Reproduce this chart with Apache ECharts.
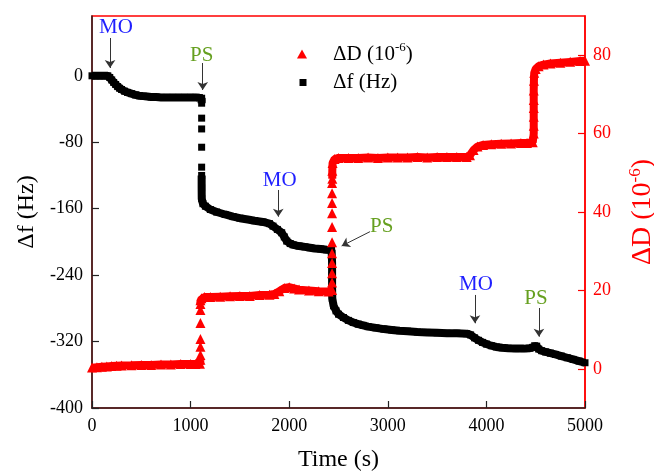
<!DOCTYPE html>
<html>
<head>
<meta charset="utf-8">
<script src="https://cdn.jsdelivr.net/npm/echarts@6/dist/echarts.min.js"></script>
<style>html,body{margin:0;padding:0;background:#fff;}#c{width:654px;height:472px;}</style>
</head>
<body>
<div id="c"></div>
<script>
// Δf (Hz) — black squares, left axis. null = gap between isolated markers
const fTime = [0,40,80,120,160,180,200,220,240,260,280,300,330,360,400,440,480,520,560,600,650,700,760,820,880,940,1000,1050,1090,1112,1112,1112,1112,1112,1112,1112,1112,1112,1112,1112,1112,1112,1113,1125,1150,1200,1264,1350,1430,1500,1580,1650,1734,1800,1836,1880,1924,1950,1975,2010,2040,2100,2160,2211,2260,2320,2380,2430,2435,2435,2435,2437,2450,2475,2500,2550,2600,2650,2700,2750,2800,2880,2960,3040,3120,3200,3300,3400,3500,3600,3700,3800,3840,3880,3920,3960,4000,4050,4100,4160,4220,4300,4380,4440,4470,4490,4510,4530,4560,4600,4650,4700,4760,4820,4880,4940,5000];
const fVal  = [0,0,0,0,0,-2,-5,-8,-10.5,-13,-15,-16.5,-18.5,-20,-21.5,-23,-24,-24.5,-25,-25.5,-25.5,-26,-26,-26,-26,-26,-26,-26,-26.5,-27,-33,null,-51,null,-64,null,-86,null,-110,null,-120,-135,-148,-154,-157,-161,-164,-167,-169.5,-171.5,-173,-174.5,-176,-178,-181,-185,-189,-194,-199,-202,-203.5,-205,-206,-207,-208,-208.5,-209.5,-210,-225,-240,-255,-268,-277,-283,-287,-291,-294.5,-297,-299,-300.5,-302,-303.5,-305,-306,-307,-307.5,-308.5,-309,-309.5,-310,-310,-310.5,-312,-315.5,-318.5,-321,-323,-325,-326.5,-327.5,-328,-328.5,-328.5,-328,-327,-325,-325.5,-329,-331,-332.5,-334,-335.5,-337.5,-339.5,-341.5,-343.5,-345.5];

// ΔD (10^-6) — red triangles, right axis
const dTime = [0,50,100,150,200,250,300,400,500,600,700,800,900,1000,1050,1095,1100,1100,1100,1100,1100,1100,1100,1100,1100,1100,1100,1100,1100,1100,1110,1140,1200,1300,1400,1500,1600,1700,1800,1850,1900,1950,2000,2050,2100,2200,2300,2400,2435,2435,2435,2435,2435,2435,2435,2435,2435,2435,2435,2435,2435,2435,2435,2435,2435,2435,2435,2435,2435,2435,2437,2437,2440,2460,2500,2600,2700,2800,2900,3000,3100,3200,3300,3400,3500,3600,3700,3800,3834,3870,3910,3966,4050,4150,4250,4350,4412,4470,4480,4480,4480,4480,4480,4480,4482,4485,4500,4530,4580,4650,4750,4850,4950,5000];
const dVal  = [0.3,0.4,0.5,0.6,0.7,0.8,0.85,0.9,1.0,1.0,1.1,1.1,1.2,1.2,1.2,1.3,2.3,null,3.5,null,5.6,null,7.6,null,11.7,null,15,null,16.5,17.5,18,18.3,18.3,18.4,18.5,18.6,18.6,18.8,18.9,19.1,19.8,20.6,20.8,20.5,20.2,20,19.8,19.7,20.1,null,22,null,24.4,null,27,null,29.5,null,32.3,null,36.2,null,39.7,null,42.3,null,44.8,null,47.4,null,48.5,50.5,52.5,53.5,53.8,53.8,53.8,53.9,53.8,53.9,53.9,53.9,54,53.9,54,54,54,54,54.5,55.8,56.7,57.1,57.3,57.4,57.5,57.6,57.6,57.8,60,62,64.3,66.5,68.6,71,73.5,75.5,76.5,77.2,77.6,77.9,78.1,78.3,78.5,78.6];

const xTicks = [0,1000,2000,3000,4000,5000];
const fTicks = [-400,-320,-240,-160,-80,0];
const dTicks = [0,20,40,60,80];

// annotations in data coordinates (time, Δf)
const notes = [
  {text:'MO', color:'#1f1fff', label:[243,58],    arrow:[183,45.5,183,9.4]},
  {text:'PS', color:'#66a020', label:[1113,25], arrow:[1123,15.4,1123,-17.1]},
  {text:'MO', color:'#1f1fff', label:[1904,-126], arrow:[1889,-137.5,1889,-169.6]},
  {text:'PS', color:'#66a020', label:[2938,-181], arrow:[2819,-187.7,2532,-204.9]},
  {text:'MO', color:'#1f1fff', label:[3894,-251], arrow:[3884,-263.9,3884,-298]},
  {text:'PS', color:'#66a020', label:[4503,-268.5], arrow:[4533,-279.6,4533,-314.1]}
];

const FONT = 'Liberation Serif';
const toData = (ts, vs) => ts.map((t, i) => [t, vs[i] === null ? '-' : vs[i]]);

const chart = echarts.init(document.getElementById('c'), null, {renderer:'canvas'});
chart.setOption({
  animation: false,
  textStyle: {fontFamily: FONT},
  grid: {left: 92, right: 69, top: 16, bottom: 64, show: true, borderColor: '#ff0000', borderWidth: 1.5,
         containLabel: false, outerBoundsMode: 'none'},
  legend: [
    {data: [{name:'ΔD', icon:'triangle'}], orient:'vertical', left: 297, top: 41, padding: 0,
     itemWidth: 10, itemHeight: 9,
     formatter: () => '{a|ΔD (10}{s|-6}{a|)}',
     textStyle: {padding:[0,0,0,21], rich: {a:{fontSize:21, fontFamily:FONT, color:'#000', lineHeight:26}, s:{fontSize:13, fontFamily:FONT, color:'#000', verticalAlign:'top', lineHeight:14}}}},
    {data: [{name:'Δf', icon:'rect'}], orient:'vertical', left: 299.5, top: 72, padding: 0,
     itemWidth: 7, itemHeight: 7,
     formatter: () => '{a|Δf (Hz)}',
     textStyle: {padding:[0,0,0,21.5], rich: {a:{fontSize:21, fontFamily:FONT, color:'#000', lineHeight:26}}}}
  ],
  xAxis: {
    type:'value', min:0, max:5000, interval:1000,
    axisLine:{show:true, onZero:false, lineStyle:{color:'#222', width:1.5}},
    axisTick:{show:true, inside:true, length:7, customValues:xTicks, lineStyle:{color:'#222', width:1.2}},
    axisLabel:{fontSize:18, color:'#000', margin:9, fontFamily:FONT, customValues:xTicks, formatter: v => String(v)},
    splitLine:{show:false},
    name:'Time (s)', nameLocation:'middle', nameGap:40,
    nameTextStyle:{fontSize:24, color:'#000', fontFamily:FONT}
  },
  yAxis: [
    {
      type:'value', min:-400, max:72, position:'left',
      axisLine:{show:true, onZero:false, lineStyle:{color:'#222', width:1.5}},
      axisTick:{show:true, inside:true, length:7, customValues:fTicks, lineStyle:{color:'#222', width:1.2}},
      axisLabel:{fontSize:18, color:'#000', margin:9, fontFamily:FONT, customValues:fTicks, formatter: v => String(v)},
      splitLine:{show:false},
      name:'Δf (Hz)', nameLocation:'middle', nameGap:52,
      nameTextStyle:{fontSize:24, color:'#000', fontFamily:FONT}
    },
    {
      type:'value', min:-10, max:90, position:'right',
      axisLine:{show:true, onZero:false, lineStyle:{color:'#ff0000', width:1.5}},
      axisTick:{show:true, inside:true, length:7, customValues:dTicks, lineStyle:{color:'#ff0000', width:1.2}},
      axisLabel:{fontSize:18, color:'#ff0000', margin:8, fontFamily:FONT, customValues:dTicks, formatter: v => String(v)},
      splitLine:{show:false},
      name:'{a|ΔD (10}{s|-6}{a|)}', nameLocation:'middle', nameGap:42,
      nameTextStyle:{color:'#ff0000', rich:{a:{fontSize:28, fontFamily:FONT, color:'#ff0000', lineHeight:32}, s:{fontSize:17, fontFamily:FONT, color:'#ff0000', verticalAlign:'top', lineHeight:16}}}
    }
  ],
  series: [
    {
      name:'Δf', type:'line', yAxisIndex:0, data: toData(fTime, fVal),
      symbol:'rect', symbolSize:7, showSymbol:true, showAllSymbol:true, connectNulls:false,
      lineStyle:{color:'#000', width:8}, itemStyle:{color:'#000'}, z:2,
      markPoint: {
        silent:true, symbol:'rect', symbolSize:1, itemStyle:{color:'rgba(0,0,0,0)'},
        data: notes.map(n => ({coord:n.label, name:n.text,
          label:{show:true, position:'inside', formatter:n.text, color:n.color, fontSize:21, fontFamily:FONT}}))
      },
      markLine: {
        silent:true, symbol:['none','arrow'], symbolSize:8,
        label:{show:false},
        lineStyle:{color:'#333', width:1, type:'solid'},
        data: notes.map(n => [{coord:[n.arrow[0], n.arrow[1]]}, {coord:[n.arrow[2], n.arrow[3]]}])
      }
    },
    {
      name:'ΔD', type:'line', yAxisIndex:1, data: toData(dTime, dVal),
      symbol:'triangle', symbolSize:10, showSymbol:true, showAllSymbol:true, connectNulls:false,
      lineStyle:{color:'#ff0000', width:8}, itemStyle:{color:'#ff0000'}, z:3
    }
  ]
});
</script>
</body>
</html>
